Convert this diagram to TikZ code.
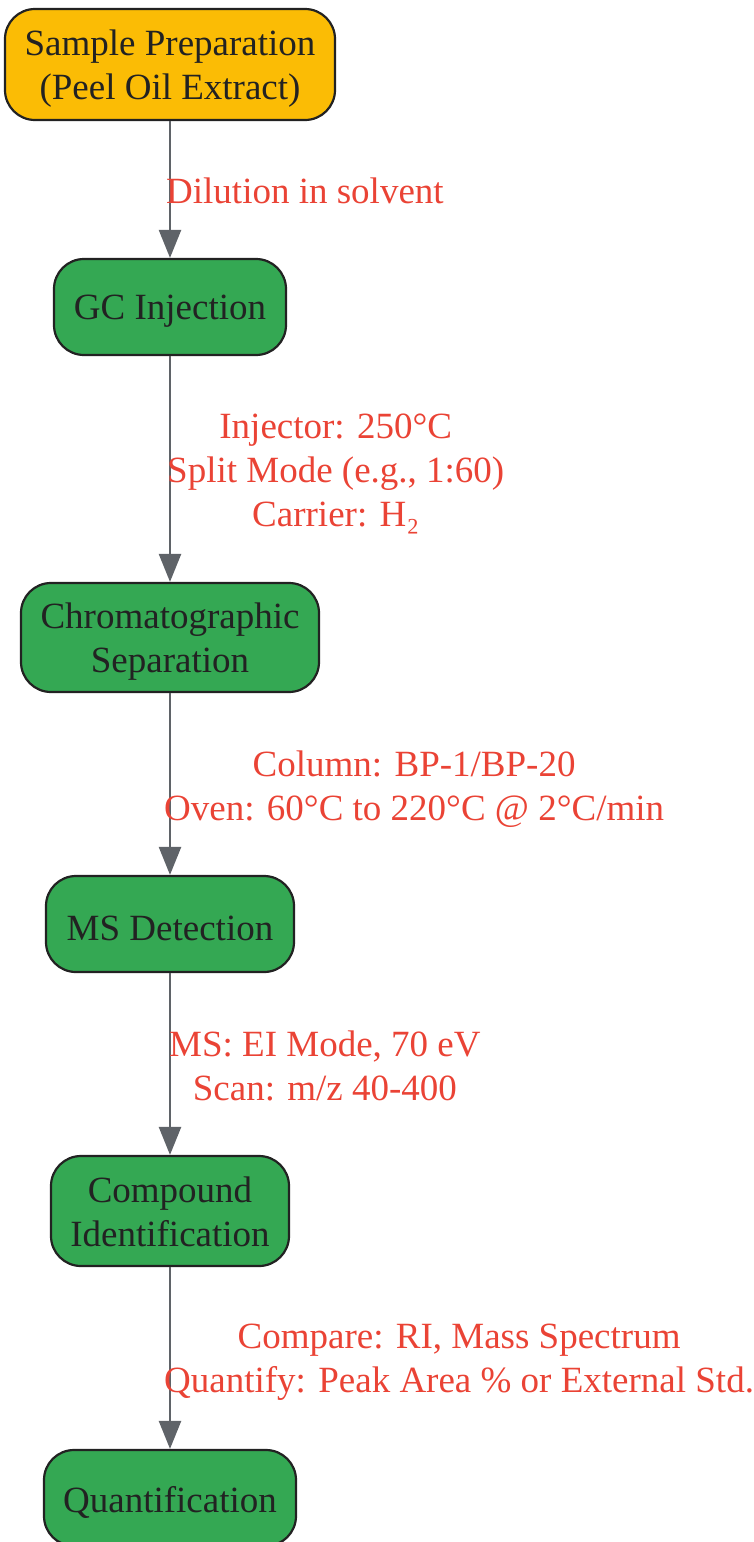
\documentclass[tikz,border=0pt]{standalone}
\usepackage{fontspec}
\setmainfont{Liberation Serif}
\usetikzlibrary{arrows.meta}
\definecolor{stepgreen}{HTML}{34A853}
\definecolor{stepyellow}{HTML}{FBBC05}
\definecolor{edgegray}{HTML}{5F6368}
\definecolor{labelred}{HTML}{EA4335}
\definecolor{borderdark}{HTML}{222222}
\tikzset{
  stepbox/.style={draw=borderdark, line width=2.2pt, rounded corners=30pt, fill=stepgreen,
    inner sep=0pt},
  startbox/.style={stepbox, fill=stepyellow},
  boxtext/.style={text=borderdark, align=center, inner sep=0pt, yshift=-4pt,
    font=\fontsize{37}{44}\selectfont},
  flowarrow/.style={draw=edgegray, line width=2.5pt, -{Triangle[width=22pt,length=28pt]}},
  steplabel/.style={text=labelred, align=center, anchor=west, inner sep=0pt,
    font=\fontsize{37}{44}\selectfont},
}
\begin{document}
\begin{tikzpicture}[x=1pt,y=-1pt]
\useasboundingbox (0,0) rectangle (754,1542);
\node[startbox, minimum width=330pt, minimum height=111pt,
  label={[boxtext]center:Sample Preparation\\(Peel Oil Extract)}] (prep) at (170,64.5) {};
\node[stepbox, minimum width=232pt, minimum height=96pt,
  label={[boxtext]center:GC Injection}] (inj) at (170,307) {};
\node[stepbox, minimum width=298pt, minimum height=109pt,
  label={[boxtext]center:Chromatographic\\Separation}] (sep) at (170,637.5) {};
\node[stepbox, minimum width=248pt, minimum height=96pt,
  label={[boxtext]center:MS Detection}] (det) at (170,924) {};
\node[stepbox, minimum width=238pt, minimum height=110pt,
  label={[boxtext, yshift=3pt]center:Compound\\Identification}] (ident) at (170,1211) {};
\node[stepbox, minimum width=252pt, minimum height=96pt,
  label={[boxtext]center:Quantification}] (quant) at (170,1498) {};

\draw[flowarrow] (prep) -- (inj);
\draw[flowarrow] (inj) -- (sep);
\draw[flowarrow] (sep) -- (det);
\draw[flowarrow] (det) -- (ident);
\draw[flowarrow] (ident) -- (quant);

\node[steplabel] (l1) at (166,191) {Dilution in solvent};
\node[steplabel] (l2) at (167,474) {Injector: 250°C\\Split Mode (e.g., 1:60)\\Carrier: H₂};
\node[steplabel] (l3) at (164,789) {Column: BP-1/BP-20\\Oven: 60°C to 220°C @ 2°C/min};
\node[steplabel] (l4) at (169,1066) {MS: EI Mode, 70 eV\\Scan: m/z 40-400};
\node[steplabel] (l5) at (164,1362) {Compare: RI, Mass Spectrum\\Quantify: Peak Area \% or External Std.};
\end{tikzpicture}
\end{document}
